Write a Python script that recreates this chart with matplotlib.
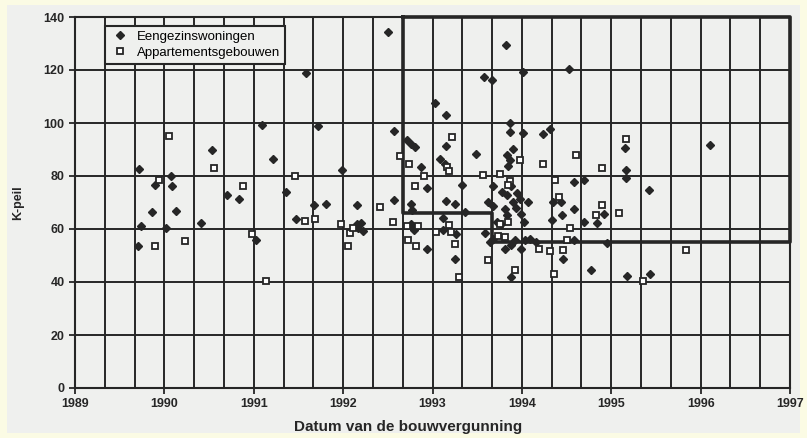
#!/usr/bin/env python3
import matplotlib
matplotlib.use('Agg')
import matplotlib.pyplot as plt
from matplotlib.patches import Rectangle
import numpy as np

# K-peil per bouwvergunning
eengezins_x = [1989.70, 1989.74, 1989.72, 1989.86, 1989.90, 1990.02, 1990.07, 1990.09,
               1990.13, 1990.41, 1990.53, 1990.70, 1990.84, 1991.03, 1991.09, 1991.21,
               1991.36, 1991.47, 1991.59, 1991.67, 1991.72, 1991.81, 1991.99, 1992.15,
               1992.15, 1992.20, 1992.22, 1992.17, 1992.50, 1992.57, 1992.57, 1992.71,
               1992.76, 1992.80, 1992.87, 1992.94, 1992.76, 1992.77, 1992.76, 1992.79,
               1992.94, 1993.03, 1993.15, 1993.15, 1993.08, 1993.14, 1993.15, 1993.25,
               1993.12, 1993.12, 1993.26, 1993.33, 1993.36, 1993.25, 1993.49, 1993.58,
               1993.67, 1993.82, 1994.01, 1993.87, 1993.87, 1994.01, 1993.90, 1993.83,
               1993.87, 1993.85, 1993.68, 1993.88, 1993.83, 1993.90, 1993.98, 1994.07,
               1993.62, 1993.68, 1993.81, 1993.83, 1993.99, 1993.72, 1993.77, 1993.59,
               1993.68, 1993.64, 1993.81, 1993.88, 1993.99, 1993.92, 1994.03, 1994.09,
               1994.16, 1993.88, 1994.24, 1994.32, 1994.53, 1994.58, 1994.69, 1994.44,
               1994.35, 1994.58, 1994.45, 1994.34, 1994.69, 1994.58, 1994.46, 1994.77,
               1994.92, 1994.84, 1994.95, 1995.15, 1995.16, 1995.17, 1995.18, 1995.42,
               1995.43, 1996.10, 1993.93, 1993.95, 1993.78, 1994.02]
eengezins_y = [53.5, 61.0, 82.5, 66.3, 76.7, 60.2, 80.0, 76.1,
               66.9, 62.4, 89.9, 72.8, 71.2, 56.0, 99.4, 86.4,
               73.9, 63.8, 118.9, 69.2, 99.0, 69.6, 82.4, 69.0,
               61.8, 62.3, 59.3, 60.2, 134.3, 96.8, 71.1, 93.5,
               92.2, 91.0, 83.4, 75.5, 69.3, 67.0, 62.0, 59.5,
               52.3, 107.6, 103.1, 91.5, 86.3, 84.4, 70.5, 69.3,
               64.1, 59.5, 58.0, 76.5, 66.5, 48.5, 88.2, 117.3,
               116.3, 129.6, 119.1, 100.1, 96.7, 96.3, 90.3, 87.8,
               85.9, 83.8, 76.1, 76.1, 72.8, 70.2, 71.5, 70.2,
               70.2, 68.5, 67.7, 65.2, 65.8, 62.7, 62.0, 58.5,
               56.4, 55.2, 52.6, 53.9, 52.6, 55.8, 55.8, 56.4,
               55.2, 41.7, 95.7, 97.8, 120.2, 77.9, 78.6, 70.2,
               70.2, 67.7, 65.2, 63.5, 62.7, 56.0, 48.5, 44.7,
               65.6, 62.4, 54.9, 90.7, 82.1, 79.4, 42.3, 74.6,
               43.2, 91.8, 68.0, 73.5, 74.0, 62.5]

appart_x = [1989.90, 1989.94, 1990.05, 1990.23, 1990.55, 1990.88, 1990.98, 1991.14,
            1991.46, 1991.57, 1991.68, 1991.98, 1992.08, 1992.11, 1992.05, 1992.41,
            1992.56, 1992.64, 1992.74, 1992.72, 1992.84, 1992.73, 1992.82, 1992.90,
            1992.80, 1993.04, 1993.22, 1993.16, 1993.18, 1993.19, 1993.21, 1993.25,
            1993.30, 1993.56, 1993.75, 1993.87, 1993.85, 1993.98, 1993.76, 1993.85,
            1993.73, 1993.81, 1993.62, 1993.92, 1994.19, 1994.31, 1994.46, 1994.36,
            1994.24, 1994.37, 1994.41, 1994.54, 1994.50, 1994.60, 1994.90, 1994.90,
            1994.83, 1995.09, 1995.16, 1995.36, 1995.84]
appart_y = [53.4, 78.4, 95.1, 55.3, 83.2, 76.3, 58.0, 40.2,
            80.1, 63.2, 63.7, 62.0, 58.5, 60.2, 53.6, 68.2,
            62.7, 87.4, 84.6, 61.3, 61.0, 55.8, 53.5, 79.9,
            76.1, 58.8, 94.8, 83.3, 81.8, 61.5, 58.9, 54.5,
            41.7, 80.3, 80.9, 78.3, 76.5, 85.9, 62.0, 62.7,
            57.3, 57.0, 48.2, 44.7, 52.6, 51.7, 52.0, 43.0,
            84.4, 78.4, 72.1, 60.5, 56.0, 87.8, 83.0, 69.0,
            65.2, 66.2, 94.1, 40.5, 52.0]

# omlijnd gebied (trap)
box_x = [1992.667, 1992.667, 1993.667, 1993.667, 1997.0, 1997.0, 1992.667]
box_y = [140, 66, 66, 55, 55, 140, 140]

year_ticks = list(range(1989, 1998))
y_ticks = list(range(0, 141, 20))

ink = '#262626'
paper = '#eff0ee'

fig = plt.figure(figsize=(8.07, 4.38), dpi=100, facecolor='#fbfbe4')
fig.patches.append(Rectangle((7 / 807, 5 / 438), 793 / 807, 428 / 438,
                             transform=fig.transFigure, facecolor=paper,
                             edgecolor='none', zorder=-10))
ax = fig.add_axes([75 / 807, 1 - 388 / 438, 715 / 807, 371 / 438])
ax.set_facecolor(paper)

ax.set_xlim(1989, 1997)
ax.set_ylim(0, 140)
ax.set_xticks(year_ticks)
ax.set_xticks(np.arange(1989, 1997.01, 1 / 3), minor=True)
ax.set_yticks(y_ticks)
ax.grid(True, which='both', color=ink, linewidth=1.4)
ax.set_axisbelow(True)
ax.tick_params(which='minor', length=0)
ax.tick_params(which='major', length=4, width=1.3, color=ink, direction='out',
               labelsize=9, labelcolor=ink)
for lab in ax.get_xticklabels() + ax.get_yticklabels():
    lab.set_fontweight('bold')
    lab.set_family('Liberation Sans')
for sp in ax.spines.values():
    sp.set_color(ink)
    sp.set_linewidth(1.5)

ax.plot(box_x, box_y, color=ink, linewidth=2.6, zorder=2, clip_on=False)

ax.plot(eengezins_x, eengezins_y, linestyle='none', marker='D', markersize=4.5,
        color=ink, label='Eengezinswoningen', zorder=3)
ax.plot(appart_x, appart_y, linestyle='none', marker='s', markersize=4.6,
        markerfacecolor='white', markeredgecolor=ink, markeredgewidth=1.3,
        label='Appartementsgebouwen', zorder=3)

leg = ax.legend(loc='upper left', bbox_to_anchor=(0.042, 0.976), fancybox=False,
                framealpha=1, edgecolor=ink, facecolor=paper, borderpad=0.35,
                handletextpad=0.5, labelspacing=0.3, borderaxespad=0,
                handlelength=1.6,
                prop={'family': 'Liberation Sans', 'size': 9.5})
leg.get_frame().set_linewidth(1.5)

ax.set_xlabel('Datum van de bouwvergunning', family='Liberation Sans',
              fontweight='bold', fontsize=11, color=ink, labelpad=2)
ax.xaxis.set_label_coords(0.466, -0.085)
ax.set_ylabel('K-peil', family='Liberation Sans', fontweight='bold',
              fontsize=9, color=ink, labelpad=14)

fig.savefig('out.png', dpi=100, facecolor=fig.get_facecolor())
